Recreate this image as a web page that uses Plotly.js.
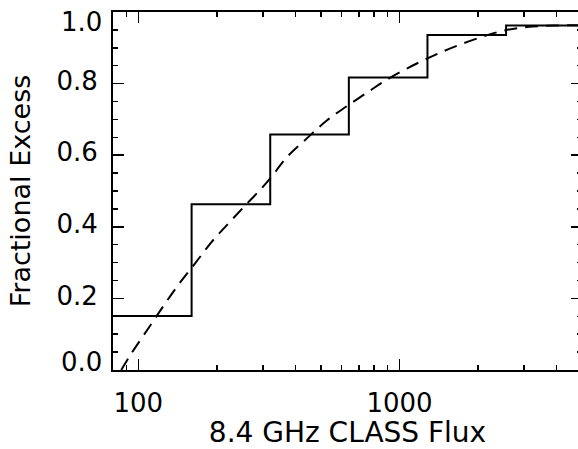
<!DOCTYPE html>
<html>
<head>
<meta charset="utf-8">
<script src="https://cdn.plot.ly/plotly-3.0.1.min.js"></script>
<style>
html,body{margin:0;padding:0;overflow:hidden;background:#fff;}
#plot{width:590px;height:449px;}
</style>
</head>
<body>
<div id="plot"></div>
<script>
// Step histogram: bin edges (flux) and fractional excess per bin
const binEdges = [80, 160, 320, 640, 1280, 2560, 5000];
const binFraction = [0.151, 0.463, 0.658, 0.817, 0.936, 0.962];

// Dashed model curve
const curveFlux = [86, 94, 108, 123, 142, 165, 191, 221, 260, 297, 320, 371, 442, 527, 629, 773, 895, 1067, 1312, 1611, 2039, 2503, 3076, 3890, 5000];
const curveFrac = [0.0, 0.046, 0.111, 0.172, 0.237, 0.298, 0.358, 0.409, 0.464, 0.508, 0.535, 0.595, 0.647, 0.697, 0.737, 0.781, 0.811, 0.842, 0.874, 0.902, 0.929, 0.948, 0.958, 0.962, 0.963];

// Axis ticks
const xTickVals = [100, 1000];
const xTickText = ['100', '1000'];
const yTickVals = [0.0, 0.2, 0.4, 0.6, 0.8, 1.0];
const yTickText = ['0.0', '0.2', '0.4', '0.6', '0.8', '1.0'];

const stepY = binFraction.concat([binFraction[binFraction.length - 1]]);

const tickFont = {family: 'DejaVu Sans, sans-serif', size: 26, color: '#000'};
const xTitleFont = {family: 'DejaVu Sans, sans-serif', size: 28, color: '#000'};
const yTitleFont = {family: 'DejaVu Sans, sans-serif', size: 27, color: '#000'};

// End labels of the y axis are nudged inward (as in the original figure)
const lastIdx = yTickVals.length - 1;
const axisTickText = yTickText.map((t, i) => (i === 0 || i === lastIdx) ? ' ' : t);
const endLabels = [0, lastIdx].map(i => ({
  xref: 'paper', yref: 'y', x: 0, y: yTickVals[i],
  text: yTickText[i], showarrow: false, font: tickFont,
  xanchor: 'right', yanchor: 'middle', xshift: -9, yshift: i === 0 ? 8 : -10
}));

const traces = [
  {x: binEdges, y: stepY, type: 'scatter', mode: 'lines',
   line: {shape: 'hv', color: '#000', width: 2}, hoverinfo: 'skip', showlegend: false},
  {x: curveFlux, y: curveFrac, type: 'scatter', mode: 'lines',
   line: {shape: 'spline', color: '#000', width: 2, dash: '13px,8px'}, hoverinfo: 'skip', showlegend: false}
];

const layout = {
  width: 590, height: 449,
  margin: {l: 113, r: 8, t: 12, b: 79, pad: 0},
  paper_bgcolor: '#fff', plot_bgcolor: '#fff',
  font: tickFont,
  showlegend: false,
  annotations: endLabels,
  xaxis: {
    type: 'log', range: [Math.log10(80), Math.log10(5000)],
    tickvals: xTickVals, ticktext: xTickText,
    ticks: 'inside', ticklen: 11, tickwidth: 1.5, tickcolor: '#000',
    minor: {ticks: 'inside', ticklen: 5, tickwidth: 1.5, tickcolor: '#000', dtick: 'D1', showgrid: false},
    showline: true, linecolor: '#000', linewidth: 2, mirror: 'ticks',
    showgrid: false, zeroline: false,
    tickfont: tickFont, ticklabelstandoff: 9, ticklabeloverflow: 'allow',
    title: {text: '8.4 GHz CLASS Flux', font: xTitleFont, standoff: 8}
  },
  yaxis: {
    range: [0, 1],
    tickvals: yTickVals, ticktext: axisTickText,
    ticks: 'inside', ticklen: 11, tickwidth: 1.5, tickcolor: '#000',
    minor: {ticks: 'inside', ticklen: 5, tickwidth: 1.5, tickcolor: '#000', dtick: 0.05, showgrid: false},
    showline: true, linecolor: '#000', linewidth: 2, mirror: 'ticks',
    showgrid: false, zeroline: false,
    tickfont: tickFont, ticklabelstandoff: 8, ticklabelshift: -3, ticklabeloverflow: 'allow',
    title: {text: 'Fractional Excess', font: yTitleFont, standoff: 18}
  }
};

Plotly.newPlot('plot', traces, layout, {staticPlot: true, displayModeBar: false});
</script>
</body>
</html>
